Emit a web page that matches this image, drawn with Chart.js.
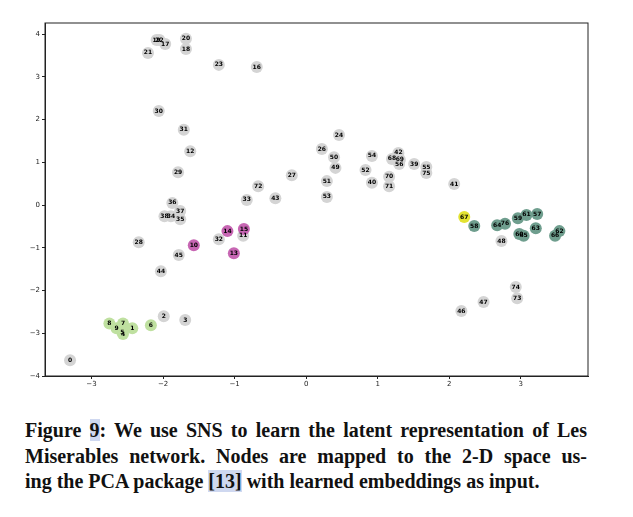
<!DOCTYPE html>
<html><head><meta charset="utf-8">
<script src="https://cdn.jsdelivr.net/npm/chart.js@4/dist/chart.umd.min.js"></script>
<style>
body{margin:0;background:#fff;width:633px;height:517px;overflow:hidden;position:relative}
#wrap{position:absolute;left:0;top:0;width:633px;height:390px}
#cap{position:absolute;left:25px;top:418px;width:562px;font-family:"Liberation Serif","DejaVu Serif",serif;font-weight:bold;font-size:20px;line-height:25.5px;color:#111}
#cap div{text-align:justify;text-align-last:justify;white-space:nowrap}
#cap div.last{text-align-last:left}
.hl{background:#cfd8f0}
</style></head><body>
<div id="wrap"><canvas id="c" width="633" height="390"></canvas></div>
<div id="cap"><div>Figure <span class="hl">9</span>: We use SNS to learn the latent representation of Les</div><div>Miserables network. Nodes are mapped to the 2-D space us-</div><div class="last">ing the PCA package <span class="hl">[13]</span> with learned embeddings as input.</div></div>
<script>
const nodeIds = [0,1,2,3,4,5,6,7,8,9,10,11,12,13,14,15,16,17,18,19,20,21,22,23,24,26,27,28,29,30,31,32,33,34,35,36,37,38,39,40,41,42,43,44,45,46,47,48,49,50,51,52,53,54,55,56,57,58,59,60,61,62,63,64,65,66,67,68,69,70,71,72,73,74,75,76];
const xVals = [-3.30,-2.43,-1.99,-1.69,-2.56,-2.57,-2.17,-2.56,-2.75,-2.65,-1.57,-0.88,-1.62,-1.01,-1.10,-0.87,-0.69,-1.97,-1.68,-2.09,-1.68,-2.21,-2.05,-1.22,0.46,0.22,-0.20,-2.34,-1.79,-2.06,-1.71,-1.22,-0.83,-1.89,-1.76,-1.87,-1.76,-1.98,1.51,0.92,2.07,1.29,-0.43,-2.03,-1.78,2.17,2.48,2.73,0.41,0.39,0.29,0.83,0.29,0.92,1.68,1.30,3.23,2.35,2.96,2.98,3.08,3.54,3.21,2.67,3.04,3.48,2.21,1.20,1.31,1.16,1.16,-0.67,2.95,2.93,1.68,2.78];
const yVals = [-3.63,-2.88,-2.60,-2.69,-3.02,-2.97,-2.81,-2.77,-2.77,-2.88,-0.94,-0.72,1.26,-1.13,-0.61,-0.56,3.23,3.77,3.65,3.86,3.89,3.56,3.86,3.28,1.64,1.31,0.70,-0.87,0.77,2.20,1.76,-0.80,0.12,-0.26,-0.33,0.05,-0.14,-0.26,0.96,0.52,0.49,1.22,0.16,-1.55,-1.17,-2.48,-2.27,-0.84,0.87,1.12,0.56,0.82,0.19,1.15,0.89,0.96,-0.21,-0.49,-0.31,-0.68,-0.23,-0.61,-0.54,-0.47,-0.72,-0.72,-0.28,1.08,1.06,0.66,0.44,0.44,-2.18,-1.92,0.75,-0.44];
const groups = ["g","lg","g","g","lg","lg","lg","lg","lg","lg","m","g","g","m","m","m","g","g","g","g","g","g","g","g","g","g","g","g","g","g","g","g","g","g","g","g","g","g","g","g","g","g","g","g","g","g","g","g","g","g","g","g","g","g","g","g","t","t","t","t","t","t","t","t","t","t","y","g","g","g","g","g","g","g","g","t"];
const groupColors = {g:"#d4d4d4",lg:"#bfe0a0",m:"#c766b3",t:"#6f9e8e",y:"#e3e332"};
const pts = nodeIds.map((id,i)=>({x:xVals[i],y:yVals[i],id:id}));
const labelPlugin={id:'lbl',afterDatasetsDraw(ch){const c=ch.ctx;const m=ch.getDatasetMeta(0);c.save();c.font='bold 6px "DejaVu Sans"';c.fillStyle='#000';c.textAlign='center';c.textBaseline='middle';m.data.forEach((e,i)=>{c.fillText(String(pts[i].id),e.x,e.y);});c.restore();}};
const frame={id:'frame',afterDraw(ch){const a=ch.chartArea,c=ch.ctx;c.save();c.strokeStyle='#222';c.lineWidth=1;c.strokeRect(a.left,a.top,a.right-a.left,a.bottom-a.top);c.restore();}};
const intTicks=s=>{s.ticks=s.ticks.filter(t=>Number.isInteger(t.value));};
new Chart(document.getElementById('c'),{type:'scatter',
data:{datasets:[{data:pts,backgroundColor:groups.map(g=>groupColors[g]),borderWidth:0,pointRadius:6,pointHoverRadius:6}]},
options:{responsive:false,animation:false,events:[],layout:{padding:{top:23,right:45,left:0,bottom:0}},
plugins:{legend:{display:false},tooltip:{enabled:false}},
scales:{
x:{type:'linear',min:-3.65,max:3.94,afterBuildTicks:intTicks,afterFit(s){s.height=14;},ticks:{stepSize:1,font:{size:7,family:'DejaVu Sans'},color:'#222',padding:1,callback:v=>v<0?'\u2212'+Math.abs(v):v},grid:{drawOnChartArea:false,tickLength:3,color:'#222'},border:{color:'#222'}},
y:{type:'linear',min:-4.0,max:4.26,afterBuildTicks:intTicks,afterFit(s){s.width=45;},ticks:{stepSize:1,font:{size:7,family:'DejaVu Sans'},color:'#222',padding:2,callback:v=>v<0?'\u2212'+Math.abs(v):v},grid:{drawOnChartArea:false,tickLength:3,color:'#222'},border:{color:'#222'}}
}},plugins:[labelPlugin,frame]});
</script></body></html>
